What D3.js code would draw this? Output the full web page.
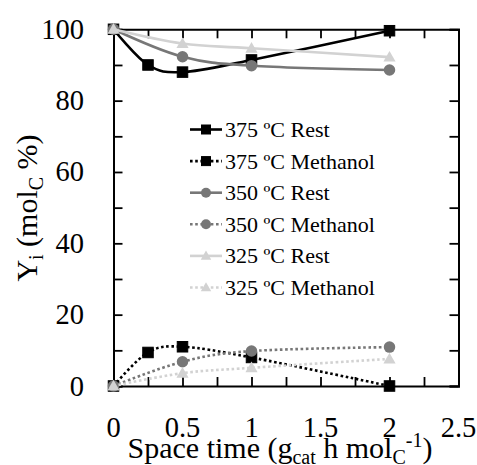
<!DOCTYPE html>
<html>
<head>
<meta charset="utf-8">
<script src="https://cdn.jsdelivr.net/npm/d3@7"></script>
<style>
  html, body { margin: 0; padding: 0; background: #fff; }
  svg { display: block; }
  svg text, svg tspan { font-family: "Liberation Serif", Tinos, "Times New Roman", serif; }
</style>
</head>
<body>
<svg id="chart" width="477" height="465"></svg>
<script>
// Space time (g_cat h mol_C^-1) for each temperature
const spaceTime375 = [0, 0.25, 0.5, 1, 2];
const spaceTime350 = [0, 0.5, 1, 2];
const spaceTime325 = [0, 0.5, 1, 2];

// Yields (mol_C %)
const rest375 = [100, 90, 88, 91.4, 99.6];
const methanol375 = [0, 9.4, 11.0, 8.0, 0];
const rest350 = [100, 92.3, 89.8, 88.6];
const methanol350 = [0, 6.8, 9.8, 10.9];
const rest325 = [100, 96.0, 94.7, 92.2];
const methanol325 = [0, 3.6, 5.1, 7.6];

// Axis ticks
const xTickLabels = [0, 0.5, 1, 1.5, 2, 2.5];
const yTickLabels = [0, 20, 40, 60, 80, 100];

const seriesNames = [
  "375 ºC Rest", "375 ºC Methanol",
  "350 ºC Rest", "350 ºC Methanol",
  "325 ºC Rest", "325 ºC Methanol"
];

const series = [
  { name: seriesNames[0], x: spaceTime375, y: rest375, color: "#000000", marker: "square", dotted: false },
  { name: seriesNames[1], x: spaceTime375, y: methanol375, color: "#000000", marker: "square", dotted: true },
  { name: seriesNames[2], x: spaceTime350, y: rest350, color: "#777777", marker: "circle", dotted: false },
  { name: seriesNames[3], x: spaceTime350, y: methanol350, color: "#777777", marker: "circle", dotted: true },
  { name: seriesNames[4], x: spaceTime325, y: rest325, color: "#d2d2d2", marker: "triangle", dotted: false },
  { name: seriesNames[5], x: spaceTime325, y: methanol325, color: "#d2d2d2", marker: "triangle", dotted: true }
];

const serifStyle = "font-family: 'Liberation Serif', Tinos, 'Times New Roman', serif";
const svg = d3.select("#chart");
const plot = { left: 113.5, right: 458.5, top: 29.3, bottom: 386 };

const x = d3.scaleLinear().domain([0, 2.5]).range([plot.left, plot.right]);
const y = d3.scaleLinear().domain([0, 100]).range([plot.bottom, plot.top]);

// Minor/major ticks, all pointing inward
const tickLen = 9;
const xMinor = d3.range(0, 2.5001, 0.25);
const yMinor = d3.range(0, 100.001, 10);

const axisG = svg.append("g").attr("class", "axes");

axisG.append("g").attr("transform", `translate(0,${plot.bottom})`)
  .call(d3.axisBottom(x).tickValues(xMinor).tickSize(-tickLen).tickFormat(""));
axisG.append("g").attr("transform", `translate(0,${plot.top})`)
  .call(d3.axisTop(x).tickValues(xMinor).tickSize(-tickLen).tickFormat(""));
axisG.append("g").attr("transform", `translate(${plot.left},0)`)
  .call(d3.axisLeft(y).tickValues(yMinor).tickSize(-tickLen).tickFormat(""));
axisG.append("g").attr("transform", `translate(${plot.right},0)`)
  .call(d3.axisRight(y).tickValues(yMinor).tickSize(-tickLen).tickFormat(""));

axisG.selectAll(".domain").attr("stroke", "#000").attr("stroke-width", 2);
axisG.selectAll(".tick line").attr("stroke", "#000").attr("stroke-width", 1.8);
axisG.selectAll(".tick text").remove();

// Tick labels
svg.append("g").selectAll("text").data(yTickLabels).join("text")
  .attr("style", serifStyle)
  .attr("x", 84)
  .attr("y", d => y(d) + 9.5)
  .attr("text-anchor", "end")
  .attr("font-size", 28.5)
  .text(d => d);

svg.append("g").selectAll("text").data(xTickLabels).join("text")
  .attr("style", serifStyle)
  .attr("x", d => x(d))
  .attr("y", 436.5)
  .attr("text-anchor", "middle")
  .attr("font-size", 28.5)
  .text(d => d);

// Axis titles
const xTitle = svg.append("text")
  .attr("style", serifStyle)
  .attr("x", 280).attr("y", 458)
  .attr("text-anchor", "middle")
  .attr("font-size", 30);
xTitle.append("tspan").text("Space time (g");
xTitle.append("tspan").attr("font-size", 20).attr("dy", 6).text("cat");
xTitle.append("tspan").attr("dy", -6).text(" h mol");
xTitle.append("tspan").attr("font-size", 20).attr("dy", 6).text("C");
xTitle.append("tspan").attr("font-size", 20).attr("dy", -17).text("-1");
xTitle.append("tspan").attr("dy", 11).text(")");

const yTitle = svg.append("text")
  .attr("style", serifStyle)
  .attr("transform", "translate(37,208) rotate(-90)")
  .attr("text-anchor", "middle")
  .attr("font-size", 30);
yTitle.append("tspan").text("Y");
yTitle.append("tspan").attr("font-size", 20).attr("dy", 6).text("i");
yTitle.append("tspan").attr("dy", -6).text(" (mol");
yTitle.append("tspan").attr("font-size", 20).attr("dy", 6).text("C");
yTitle.append("tspan").attr("dy", -6).text(" %)");

// Marker drawing helper
function drawMarker(g, type, cx, cy, color, s) {
  if (type === "square") {
    g.append("rect")
      .attr("x", cx - s / 2).attr("y", cy - s / 2)
      .attr("width", s).attr("height", s)
      .attr("fill", color).attr("stroke", color).attr("stroke-width", 1);
  } else if (type === "circle") {
    g.append("circle")
      .attr("cx", cx).attr("cy", cy).attr("r", s / 2 + 0.5)
      .attr("fill", color);
  } else {
    const h = s * 0.95;
    g.append("path")
      .attr("d", `M${cx},${cy - h * 0.62}L${cx + s * 0.58},${cy + h * 0.45}L${cx - s * 0.58},${cy + h * 0.45}Z`)
      .attr("fill", color);
  }
}

// Smoothed series lines
const line = d3.line()
  .x(d => x(d[0]))
  .y(d => y(d[1]))
  .curve(d3.curveCardinal.tension(0));

const seriesG = svg.append("g").attr("class", "series");
series.forEach(s => {
  const pts = s.x.map((v, i) => [v, s.y[i]]);
  const g = seriesG.append("g");
  g.append("path")
    .attr("d", line(pts))
    .attr("fill", "none")
    .attr("stroke", s.color)
    .attr("stroke-width", 2.6)
    .attr("stroke-dasharray", s.dotted ? "2.6,2.6" : null);
  pts.forEach(p => drawMarker(g, s.marker, x(p[0]), y(p[1]), s.color, 10.5));
});

// Legend
const legendBaselines = [137, 168.6, 200.2, 231.8, 263.4, 295];
const legendG = svg.append("g").attr("class", "legend");
series.forEach((s, i) => {
  const by = legendBaselines[i];
  const cy = by - 7.5;
  const g = legendG.append("g");
  g.append("line")
    .attr("x1", 190).attr("x2", 222)
    .attr("y1", cy).attr("y2", cy)
    .attr("stroke", s.color)
    .attr("stroke-width", 2.6)
    .attr("stroke-dasharray", s.dotted ? "2.6,2.6" : null);
  drawMarker(g, s.marker, 206, cy, s.color, 9);
  g.append("text")
    .attr("style", serifStyle)
    .attr("x", 225).attr("y", by)
    .attr("font-size", 22)
    .text(s.name);
});
</script>
</body>
</html>
